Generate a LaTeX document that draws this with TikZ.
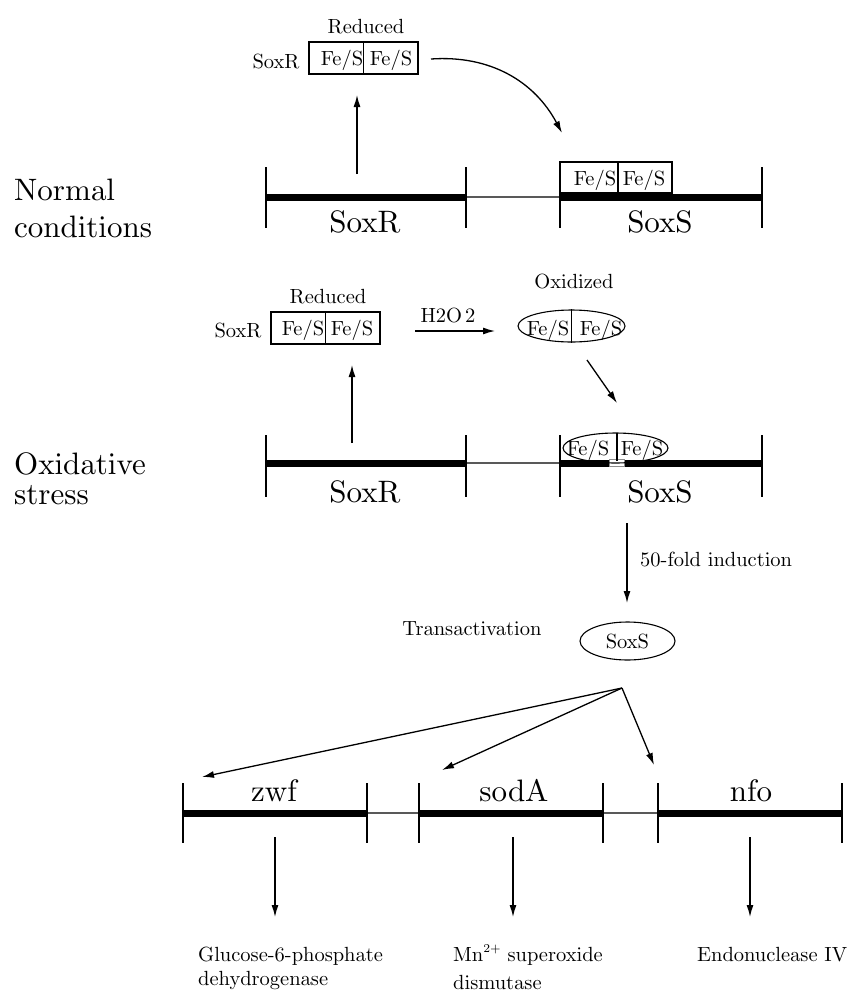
\documentclass[tikz,border=0pt]{standalone}
\usetikzlibrary{arrows.meta,shapes.geometric}
\font\labfont=cmr10 at 31pt
\font\txtfont=cmr10 at 20.5pt
\font\supfont=cmr7 at 12pt
\begin{document}
\begin{tikzpicture}[x=1pt,y=-1pt,
  >={Latex[length=12pt,width=7pt]},
  arr/.style={->,line width=1.3pt},
  genebar/.style={line width=7pt},
  spacer/.style={line width=2pt,black!65},
  tick/.style={line width=1.6pt},
  big/.style={font=\labfont,inner sep=0pt},
  small/.style={font=\txtfont,inner sep=0pt},
  febox/.style={draw,line width=1.1pt,inner sep=0pt},
  feoval/.style={draw,ellipse,line width=1.1pt,inner sep=0pt},
  divider/.style={line width=1.5pt}
]
\useasboundingbox (0,0) rectangle (856,994);

% ---------- side titles ----------
\node[big,anchor=base west] (tnorm1) at (14,200) {Normal};
\node[big,anchor=base west] (tnorm2) at (14,237) {conditions};
\node[big,anchor=base west] (tox1) at (14,474) {Oxidative};
\node[big,anchor=base west] (tox2) at (14,504) {stress};

% ---------- normal conditions ----------
\node[small,anchor=base] (red1) at (366,33) {Reduced};
\node[small,anchor=base] (sr1) at (276,68) {SoxR};
\node[febox,minimum width=109pt,minimum height=32pt] (box1) at (363.5,58) {};
\draw[divider] (box1.north) -- (box1.south);
\node[small,anchor=base] (box1a) at (342,65) {Fe/S};
\node[small,anchor=base] (box1b) at (391,65) {Fe/S};

% gene pair SoxR / SoxS
\draw[genebar] (266,197) -- (466,197);
\draw[spacer] (466,197) -- (560,197);
\draw[genebar] (560,197) -- (762,197);
\foreach \x in {266,466,560,762} \draw[tick] (\x,167) -- (\x,228);
\node[big,anchor=base] (gR1) at (365,232) {SoxR};
\node[big,anchor=base] (gS1) at (660,232) {SoxS};

\node[febox,minimum width=112pt,minimum height=31pt,fill=white] (box3) at (616,177.5) {};
\draw[divider] (618,162) -- (618,193);
\node[small,anchor=base] (box3a) at (595,185) {Fe/S};
\node[small,anchor=base] (box3b) at (644,185) {Fe/S};

% SoxR expression and transfer of the cluster to the SoxS promoter
\coordinate (up1s) at (357,174);
\coordinate (up1e) at (357,95);
\draw[arr] (up1s) -- (up1e);
\coordinate (c1s) at (431,59);
\coordinate (c1e) at (562,133);
\draw[arr] (c1s) to[out=4,in=118] (c1e);

% ---------- oxidative stress ----------
\node[small,anchor=base] (red2) at (328,303) {Reduced};
\node[small,anchor=base] (sr2) at (238,337) {SoxR};
\node[febox,minimum width=109pt,minimum height=32pt] (box2) at (325.5,328) {};
\draw[divider] (box2.north) -- (box2.south);
\node[small,anchor=base] (box2a) at (303,335) {Fe/S};
\node[small,anchor=base] (box2b) at (352,335) {Fe/S};

\node[small,anchor=base] (h2o2) at (448,322) {H2O\kern3pt 2};
\node[small,anchor=base] (ox) at (574,288) {Oxidized};
\node[feoval,minimum width=107pt,minimum height=32pt] (ov1) at (571.5,326) {};
\draw[divider] (ov1.north) -- (ov1.south);
\node[small,anchor=base] (ov1a) at (548,335) {Fe/S};
\node[small,anchor=base] (ov1b) at (601,335) {Fe/S};

\coordinate (h2s) at (415,331);
\coordinate (h2e) at (495,331);
\draw[arr] (h2s) -- (h2e);

% gene pair SoxR / SoxS
\draw[genebar] (266,463) -- (466,463);
\draw[spacer] (466,463) -- (560,463);
\draw[genebar] (560,463) -- (762,463);
\foreach \x in {266,466,560,762} \draw[tick] (\x,435) -- (\x,497);
\node[big,anchor=base] (gR2) at (365,502) {SoxR};
\node[big,anchor=base] (gS2) at (660,502) {SoxS};
\filldraw[fill=white,draw=black!45,line width=0.6pt] (609,459.5) rectangle (624,466.5);

\node[feoval,minimum width=105pt,minimum height=30pt] (ov2) at (615.5,448) {};
\draw[divider] (617,433) -- (617,461);
\node[small,anchor=base] (ov2a) at (588,455) {Fe/S};
\node[small,anchor=base] (ov2b) at (642,455) {Fe/S};

\coordinate (up2s) at (352,443);
\coordinate (up2e) at (352,365);
\draw[arr] (up2s) -- (up2e);
\coordinate (dgs) at (587,360);
\coordinate (dge) at (617,403);
\draw[arr] (dgs) -- (dge);

% ---------- induction ----------
\coordinate (inds) at (627,523);
\coordinate (inde) at (627,603);
\draw[arr] (inds) -- (inde);
\node[small,anchor=base west] (fold) at (640,566) {50-fold induction};
\node[small,anchor=base] (trans) at (472,635) {Transactivation};
\node[feoval,minimum width=95pt,minimum height=38pt] (sx) at (627.5,641) {};
\node[small,anchor=base] (sxt) at (627.5,648) {SoxS};

\coordinate (fan) at (622,688);
\coordinate (tz) at (202,777);
\coordinate (ts) at (442,770);
\coordinate (tn) at (654,765);
\draw[arr] (fan) -- (tz);
\draw[arr] (fan) -- (ts);
\draw[arr] (fan) -- (tn);

% ---------- target genes ----------
\draw[genebar] (183,813) -- (367,813);
\draw[spacer] (367,813) -- (419,813);
\draw[genebar] (419,813) -- (603,813);
\draw[spacer] (603,813) -- (658,813);
\draw[genebar] (658,813) -- (842,813);
\foreach \x in {183,367,419,603,658,842} \draw[tick] (\x,783) -- (\x,843);
\node[big,anchor=base] (zwf) at (274,801) {zwf};
\node[big,anchor=base] (soda) at (514,801) {sodA};
\node[big,anchor=base] (nfo) at (751,801) {nfo};

\coordinate (az) at (275,837);
\coordinate (as) at (513,837);
\coordinate (an) at (750,837);
\draw[arr] (az) -- ++(0,80);
\draw[arr] (as) -- ++(0,80);
\draw[arr] (an) -- ++(0,80);

\node[small,anchor=base west] (p1a) at (198,961) {Glucose-6-phosphate};
\node[small,anchor=base west] (p1b) at (198,985) {dehydrogenase};
\node[small,anchor=base west] (p2a) at (453,961) {Mn\raise9pt\hbox{\supfont 2+} superoxide};
\node[small,anchor=base west] (p2b) at (453,989) {dismutase};
\node[small,anchor=base west] (p3) at (697,961) {Endonuclease IV};
\end{tikzpicture}
\end{document}
